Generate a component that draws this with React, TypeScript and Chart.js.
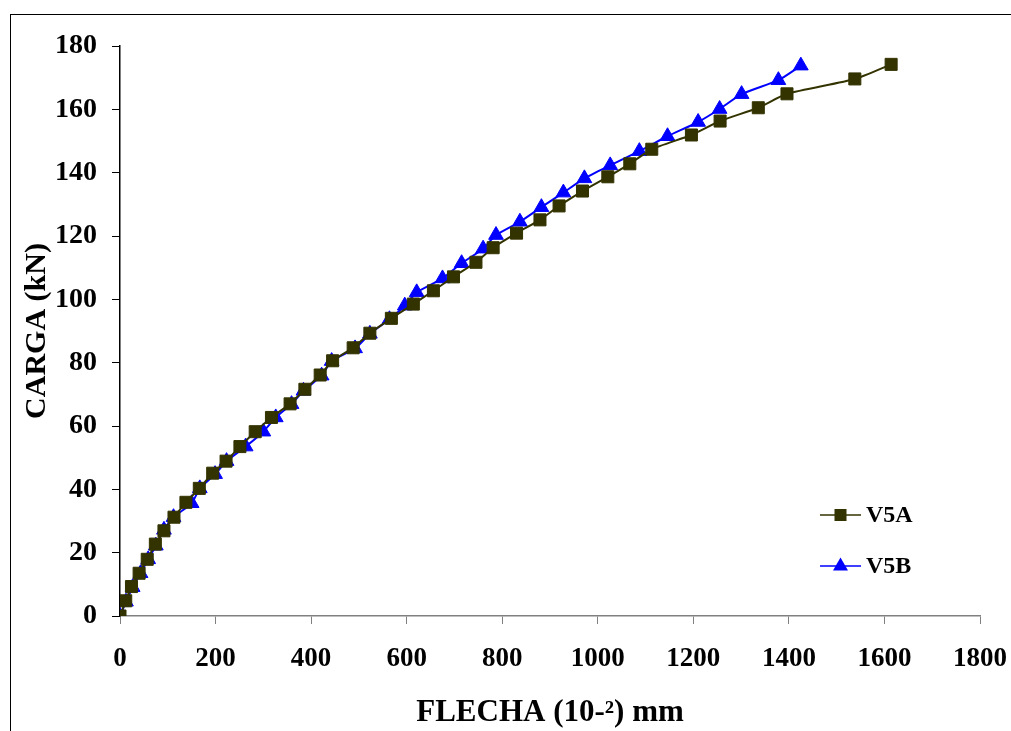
import React, { useEffect, useRef } from "react";
import { Chart, registerables } from "chart.js";

Chart.register(...registerables);

const v5aX = [0, 12, 24, 40, 57, 74, 92, 113, 138, 166, 194, 222, 251, 283, 317, 356, 387, 419, 445, 488, 523, 568, 614, 656, 698, 745, 781, 830, 879, 919, 968, 1021, 1067, 1113, 1196, 1256, 1336, 1396, 1538, 1614];
const v5aY = [0, 4.8, 9.3, 13.5, 17.9, 22.7, 26.9, 31.2, 35.9, 40.3, 45.1, 48.9, 53.5, 58.2, 62.7, 67, 71.6, 76.1, 80.6, 84.7, 89.3, 94.0, 98.5, 102.7, 107.1, 111.7, 116.3, 120.9, 125.1, 129.5, 134.2, 138.7, 142.8, 147.4, 151.9, 156.3, 160.5, 164.9, 169.6, 174.2];

const v5bX = [0, 12.5, 26.5, 43, 59, 75, 92, 112, 150, 167, 199, 223, 263, 300, 326, 359, 384, 422, 443, 492, 523, 564, 596, 621, 675, 715, 760, 787, 837, 882, 928, 972, 1026, 1087, 1146, 1210, 1255, 1301, 1378, 1425];
const v5bY = [0, 4.5, 9.1, 13.5, 17.9, 22.2, 27.2, 31.2, 35.6, 40.3, 44.8, 48.9, 53.5, 58.2, 62.7, 66.9, 71.1, 75.9, 80.5, 84.5, 89.1, 93.7, 98.0, 102.2, 106.6, 111.4, 116.0, 120.3, 124.5, 129.1, 133.7, 138.2, 142.3, 146.8, 151.5, 156.0, 160.1, 164.8, 169.2, 173.8];

const seriesNames = ["V5A", "V5B"];
const xTitle = "FLECHA (10-²) mm";
const yTitle = "CARGA (kN)";

const FONT = "'Liberation Serif', 'Times New Roman', serif";
const OLIVE = "#333300";
const BLUE = "#0000FF";

const framePlugin = {
  id: "frame",
  beforeDraw(chart: any) {
    const ctx = chart.ctx;
    ctx.save();
    ctx.fillStyle = "#ffffff";
    ctx.fillRect(0, 0, chart.width, chart.height);
    ctx.strokeStyle = "#000000";
    ctx.lineWidth = 1;
    ctx.strokeRect(10.5, 14.5, 1200, 900);
    ctx.restore();
  },
};

const legendPlugin = {
  id: "customLegend",
  afterDraw(chart: any) {
    const ctx = chart.ctx;
    ctx.save();
    const rows = [
      { y: 515, color: OLIVE, shape: "rect", name: seriesNames[0] },
      { y: 566, color: BLUE, shape: "tri", name: seriesNames[1] },
    ];
    rows.forEach((r) => {
      ctx.strokeStyle = r.color;
      ctx.lineWidth = 1.5;
      ctx.beginPath();
      ctx.moveTo(820, r.y);
      ctx.lineTo(861, r.y);
      ctx.stroke();
      ctx.fillStyle = r.color;
      if (r.shape === "rect") {
        ctx.fillRect(834.5, r.y - 6, 12, 12);
      } else {
        ctx.beginPath();
        ctx.moveTo(840.5, r.y - 8.5);
        ctx.lineTo(848, r.y + 4.5);
        ctx.lineTo(833, r.y + 4.5);
        ctx.closePath();
        ctx.fill();
      }
      ctx.fillStyle = "#000000";
      ctx.font = `bold 24px ${FONT}`;
      ctx.textAlign = "left";
      ctx.textBaseline = "middle";
      ctx.fillText(r.name, 866, r.y + 1);
    });
    ctx.restore();
  },
};

export default function App() {
  const ref = useRef<HTMLCanvasElement | null>(null);

  useEffect(() => {
    if (!ref.current) return;
    const chart = new Chart(ref.current, {
      type: "scatter",
      data: {
        datasets: [
          {
            label: seriesNames[0],
            data: v5aX.map((x, i) => ({ x, y: v5aY[i] })),
            showLine: true,
            borderColor: OLIVE,
            backgroundColor: OLIVE,
            borderWidth: 2,
            pointStyle: "rect",
            pointRadius: 8.5,
            pointBorderWidth: 1,
            pointBorderColor: OLIVE,
            pointBackgroundColor: OLIVE,
            tension: 0.2,
          },
          {
            label: seriesNames[1],
            data: v5bX.map((x, i) => ({ x, y: v5bY[i] })),
            showLine: true,
            borderColor: BLUE,
            backgroundColor: BLUE,
            borderWidth: 2,
            pointStyle: "triangle",
            pointRadius: 8.5,
            pointBorderWidth: 1,
            pointBorderColor: BLUE,
            pointBackgroundColor: BLUE,
            tension: 0.2,
          },
        ],
      },
      options: {
        animation: false,
        responsive: false,
        maintainAspectRatio: false,
        layout: { padding: { left: 0, top: 46, right: 31, bottom: 0 } },
        plugins: {
          legend: { display: false },
          tooltip: { enabled: false },
        },
        scales: {
          x: {
            type: "linear",
            min: 0,
            max: 1800,
            ticks: {
              stepSize: 200,
              padding: 19,
              color: "#000000",
              font: { family: FONT, size: 27, weight: "bold" },
              maxRotation: 0,
              callback: (v: any) => String(v),
            },
            grid: {
              display: true,
              drawOnChartArea: false,
              drawTicks: true,
              tickLength: 8,
              color: "#808080",
            },
            border: { display: true, color: "#808080", width: 1.5 },
            title: {
              display: true,
              text: xTitle,
              color: "#000000",
              font: { family: FONT, size: 31, weight: "bold" },
              padding: { top: 0, bottom: -1 },
            },
            afterFit: (s: any) => {
              s.height = 115;
              s.paddingRight = 0;
              s.paddingLeft = 0;
            },
          },
          y: {
            type: "linear",
            min: 0,
            max: 180,
            ticks: {
              stepSize: 20,
              padding: 15,
              color: "#000000",
              font: { family: FONT, size: 28, weight: "bold" },
              callback: (v: any) => String(v),
            },
            grid: {
              display: true,
              drawOnChartArea: false,
              drawTicks: true,
              tickLength: 8,
              color: "#000000",
            },
            border: { display: true, color: "#000000", width: 1.5 },
            title: {
              display: true,
              text: yTitle,
              color: "#000000",
              font: { family: FONT, size: 30, weight: "bold" },
              padding: { top: 19, bottom: 0 },
            },
            afterFit: (s: any) => {
              s.width = 120;
            },
          },
        },
      },
      plugins: [framePlugin, legendPlugin],
    });
    return () => chart.destroy();
  }, []);

  return (
    <div style={{ position: "fixed", left: 0, top: 0, width: 1011, height: 731 }}>
      <canvas ref={ref} width={1011} height={731} style={{ width: 1011, height: 731, display: "block" }} />
    </div>
  );
}
